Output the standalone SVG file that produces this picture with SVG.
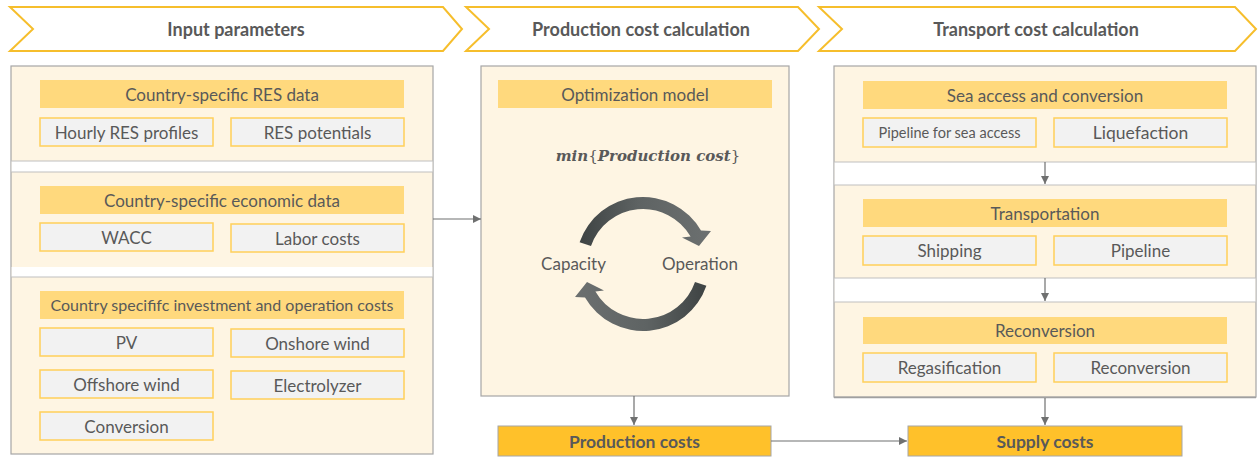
<svg xmlns="http://www.w3.org/2000/svg" width="1258" height="457" viewBox="0 0 1258 457">
<defs>
<style>
text{font-family:Lato,"Open Sans","DejaVu Sans",sans-serif;fill:#595959;text-anchor:middle}
.title{font-weight:bold;font-size:18px}
.chev{fill:#fff;stroke:#F6BE2C;stroke-width:2}
.panel{fill:#FEF5E3;stroke:#A6A6A6;stroke-width:1.2}
.band{fill:#fff}
.sep{stroke:#BFBFBF;stroke-width:1.2}
.hdr{fill:#FFD97D}
.sub{fill:#F2F2F2;stroke:#FFCF5A;stroke-width:1.5}
.t{font-size:17px}
.res{fill:#FFC12A;stroke:#A6A6A6;stroke-width:1}
.rt{font-weight:bold;font-size:17.5px}
.con{stroke:#6F7070;stroke-width:1.2;fill:none;marker-end:url(#ah)}
.math{font-family:"DejaVu Serif","Liberation Serif",serif;font-size:15px;font-weight:bold;font-style:italic}
</style>
<marker id="ah" viewBox="0 0 10 10" refX="10" refY="5" markerWidth="8" markerHeight="8" markerUnits="userSpaceOnUse" orient="auto">
<path d="M0,0 L10,5 L0,10 Z" fill="#6F7070"/>
</marker>
<linearGradient id="arcg" x1="0" y1="0" x2="1" y2="0">
<stop offset="0" stop-color="#3E4343"/>
<stop offset="0.45" stop-color="#5E6363"/>
<stop offset="1" stop-color="#6C7070"/>
</linearGradient>
</defs>

<g id="chevron-input">
<path class="chev" d="M10,7 L443,7 L462,29 L443,51 L10,51 L33,29 Z"/>
<text class="title" x="236" y="35.5">Input parameters</text>
</g>
<g id="chevron-production">
<path class="chev" d="M466,7 L798,7 L819,29 L798,51 L466,51 L489,29 Z"/>
<text class="title" x="641" y="35.5">Production cost calculation</text>
</g>
<g id="chevron-transport">
<path class="chev" d="M819,7 L1235,7 L1256,29 L1235,51 L819,51 L842,29 Z"/>
<text class="title" x="1036" y="35.5">Transport cost calculation</text>
</g>

<g id="input-panel">
<rect class="panel" x="11" y="66" width="422" height="388" fill="#fff"/>
<rect class="band" x="11.6" y="161" width="420.8" height="11"/>
<rect class="band" x="11.6" y="267" width="420.8" height="10"/>
<line class="sep" x1="11" y1="161" x2="433" y2="161"/>
<line class="sep" x1="11" y1="172" x2="433" y2="172"/>
<line class="sep" x1="11" y1="277" x2="433" y2="277"/>
</g>
<g id="res-data">
<rect class="hdr" x="40" y="80" width="364" height="28"/>
<text class="t" x="222" y="100.5">Country-specific RES data</text>
<rect class="sub" x="40" y="118" width="173" height="28"/>
<text class="t" x="126.5" y="138.5">Hourly RES profiles</text>
<rect class="sub" x="231" y="118" width="173" height="28"/>
<text class="t" x="317.5" y="138.5">RES potentials</text>
</g>
<g id="economic-data">
<rect class="hdr" x="40" y="186" width="364" height="28"/>
<text class="t" x="222" y="206.5">Country-specific economic data</text>
<rect class="sub" x="40" y="223" width="173" height="28"/>
<text class="t" x="126.5" y="243.5">WACC</text>
<rect class="sub" x="231" y="224" width="173" height="28"/>
<text class="t" x="317.5" y="244.5">Labor costs</text>
</g>
<g id="investment-costs">
<rect class="hdr" x="40" y="291" width="364" height="28"/>
<text x="222" y="310.5" style="font-size:16px">Country specififc investment and operation costs</text>
<rect class="sub" x="40" y="328" width="173" height="28"/>
<text class="t" x="126.5" y="348.5">PV</text>
<rect class="sub" x="231" y="329" width="173" height="28"/>
<text class="t" x="317.5" y="349.5">Onshore wind</text>
<rect class="sub" x="40" y="370" width="173" height="28"/>
<text class="t" x="126.5" y="390.5">Offshore wind</text>
<rect class="sub" x="231" y="371" width="173" height="28"/>
<text class="t" x="317.5" y="391.5">Electrolyzer</text>
<rect class="sub" x="40" y="412" width="173" height="28"/>
<text class="t" x="126.5" y="432.5">Conversion</text>
</g>

<g id="optimization-model">
<rect class="panel" x="481" y="66" width="308" height="330"/>
<rect class="hdr" x="498" y="80" width="274" height="28"/>
<text class="t" x="635" y="100.5">Optimization model</text>
<text class="math" x="648" y="161">min<tspan style="font-weight:normal;font-style:normal">{</tspan>Production cost<tspan style="font-weight:normal;font-style:normal">}</tspan></text>
<path fill="url(#arcg)" d="M579.6,242.2 A67,67 0 0 1 701,230.5 L711,231 L699,246 L682,237.5 L690.6,236.5 A55,55 0 0 0 591,246.1 Z"/>
<path fill="url(#arcg)" transform="rotate(180 643 264)" d="M579.6,242.2 A67,67 0 0 1 701,230.5 L711,231 L699,246 L682,237.5 L690.6,236.5 A55,55 0 0 0 591,246.1 Z"/>
<text class="t" x="573.5" y="269.5">Capacity</text>
<text class="t" x="700" y="269.5">Operation</text>
</g>

<g id="transport-panel">
<rect class="panel" x="834" y="66" width="422" height="331"/>
<line x1="834" y1="397.5" x2="1256" y2="397.5" stroke="#A0A0A0" stroke-width="1.5"/>
<rect class="band" x="834.6" y="162" width="420.8" height="23"/>
<rect class="band" x="834.6" y="278" width="420.8" height="24"/>
<line class="sep" x1="834" y1="162" x2="1256" y2="162"/>
<line class="sep" x1="834" y1="185" x2="1256" y2="185"/>
<line class="sep" x1="834" y1="278" x2="1256" y2="278"/>
<line class="sep" x1="834" y1="302" x2="1256" y2="302"/>
</g>
<g id="sea-access">
<rect class="hdr" x="863" y="81" width="364" height="28"/>
<text class="t" x="1045" y="101.5">Sea access and conversion</text>
<rect class="sub" x="863" y="118" width="173" height="29"/>
<text x="949.5" y="137.5" style="font-size:14.5px">Pipeline for sea access</text>
<rect class="sub" x="1054" y="118" width="173" height="29"/>
<text x="1140.5" y="139" style="font-size:17.5px">Liquefaction</text>
</g>
<g id="transportation">
<rect class="hdr" x="863" y="199" width="364" height="28"/>
<text class="t" x="1045" y="219.5">Transportation</text>
<rect class="sub" x="863" y="236" width="173" height="29"/>
<text class="t" x="949.5" y="256.5">Shipping</text>
<rect class="sub" x="1054" y="236" width="173" height="29"/>
<text class="t" x="1140.5" y="256.5">Pipeline</text>
</g>
<g id="reconversion">
<rect class="hdr" x="863" y="317" width="364" height="27"/>
<text class="t" x="1045" y="336.5">Reconversion</text>
<rect class="sub" x="863" y="353" width="173" height="29"/>
<text class="t" x="949.5" y="373.5">Regasification</text>
<rect class="sub" x="1054" y="353" width="173" height="29"/>
<text class="t" x="1140.5" y="373.5">Reconversion</text>
</g>

<g id="production-costs">
<rect class="res" x="498" y="426" width="273" height="30"/>
<text class="rt" x="634.5" y="447.5">Production costs</text>
</g>
<g id="supply-costs">
<rect class="res" x="908" y="426" width="274" height="30"/>
<text class="rt" x="1045" y="447.5">Supply costs</text>
</g>

<g id="connectors">
<line class="con" x1="433" y1="219" x2="481" y2="219"/>
<line class="con" x1="1045" y1="162" x2="1045" y2="184"/>
<line class="con" x1="1045" y1="278" x2="1045" y2="301"/>
<line class="con" x1="634" y1="396" x2="634" y2="425"/>
<line class="con" x1="1045" y1="398" x2="1045" y2="425"/>
<line class="con" x1="771" y1="441" x2="907" y2="441"/>
</g>
</svg>
